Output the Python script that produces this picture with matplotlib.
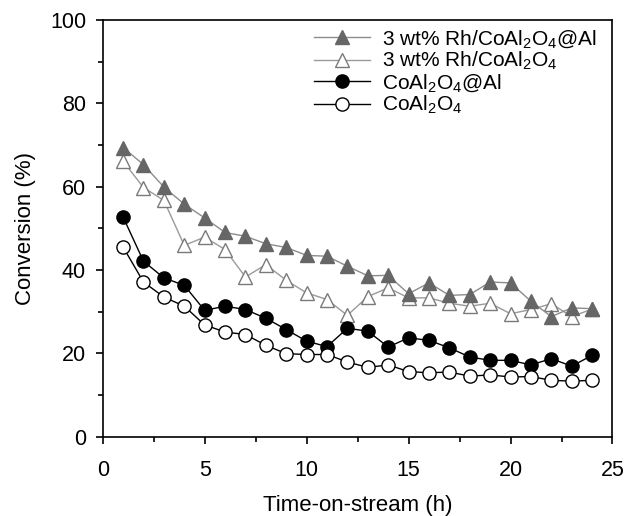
import matplotlib
matplotlib.use('Agg')
import matplotlib.pyplot as plt
from matplotlib.ticker import MultipleLocator

plt.rcParams['font.family'] = ['Liberation Sans', 'DejaVu Sans']
plt.rcParams['mathtext.fontset'] = 'custom'
plt.rcParams['mathtext.rm'] = 'Liberation Sans'
plt.rcParams['mathtext.default'] = 'regular'

# time on stream (h)
hours = list(range(1, 25))

# conversion (%)
rh_coal_al = [69.4, 65.3, 59.9, 55.8, 52.5, 49.0, 48.1, 46.3, 45.4, 43.5, 43.3, 40.9,
              38.6, 38.7, 34.3, 36.9, 33.9, 34.1, 37.1, 36.9, 32.5, 28.8, 30.9, 30.7]
rh_coal = [66.1, 59.8, 56.7, 45.9, 47.9, 44.9, 38.3, 41.3, 37.5, 34.5, 32.9, 29.1,
           33.6, 35.7, 33.3, 33.3, 32.0, 31.3, 32.0, 29.5, 30.5, 31.9, 28.8, 30.6]
coal_al = [52.7, 42.1, 38.1, 36.3, 30.3, 31.3, 30.5, 28.4, 25.7, 22.9, 21.6, 26.0,
           25.3, 21.5, 23.7, 23.1, 21.3, 19.1, 18.3, 18.3, 17.2, 18.7, 16.9, 19.5]
coal = [45.5, 37.1, 33.5, 31.3, 26.8, 25.1, 24.5, 21.9, 19.9, 19.7, 19.7, 17.9,
        16.6, 17.2, 15.6, 15.3, 15.5, 14.5, 14.8, 14.3, 14.4, 13.5, 13.3, 13.5]

labels = ['3 wt% Rh/CoAl$_2$O$_4$@Al', '3 wt% Rh/CoAl$_2$O$_4$',
          'CoAl$_2$O$_4$@Al', 'CoAl$_2$O$_4$']

fig = plt.figure(figsize=(6.38, 5.16), dpi=100)
ax = fig.add_axes([0.161, 0.154, 0.799, 0.807])

ax.plot(hours, rh_coal_al, color='#8c8c8c', lw=1.0, marker='^', ms=10.5,
        mfc='#666666', mec='#666666', label=labels[0], zorder=3)
ax.plot(hours, rh_coal, color='#9a9a9a', lw=1.0, marker='^', ms=10.5,
        mfc='white', mec='#7a7a7a', mew=1.0, label=labels[1], zorder=2)
ax.plot(hours, coal_al, color='black', lw=1.0, marker='o', ms=9.5,
        mfc='black', mec='black', label=labels[2], zorder=4)
ax.plot(hours, coal, color='black', lw=1.0, marker='o', ms=9.5,
        mfc='white', mec='black', mew=1.0, label=labels[3], zorder=4)

ax.set_xlim(0, 25)
ax.set_ylim(0, 100)
ax.xaxis.set_major_locator(MultipleLocator(5))
ax.xaxis.set_minor_locator(MultipleLocator(2.5))
ax.yaxis.set_major_locator(MultipleLocator(20))
ax.yaxis.set_minor_locator(MultipleLocator(10))
ax.tick_params(which='both', direction='out', top=False, right=False,
               labelsize=15.5, width=1.2)
ax.tick_params(which='major', length=5)
ax.tick_params(which='minor', length=3.5)
ax.tick_params(axis='x', which='major', pad=12)
ax.tick_params(axis='y', which='major', pad=7)
for s in ax.spines.values():
    s.set_linewidth(1.2)

ax.set_xlabel('Time-on-stream (h)', fontsize=16, labelpad=10)
ax.set_ylabel('Conversion (%)', fontsize=16, labelpad=10)

ax.legend(loc='upper right', frameon=False, fontsize=15, handlelength=2.7,
          handletextpad=0.55, labelspacing=0.0, borderaxespad=0.0,
          bbox_to_anchor=(0.985, 1.0))

fig.savefig('out.png', dpi=100)
